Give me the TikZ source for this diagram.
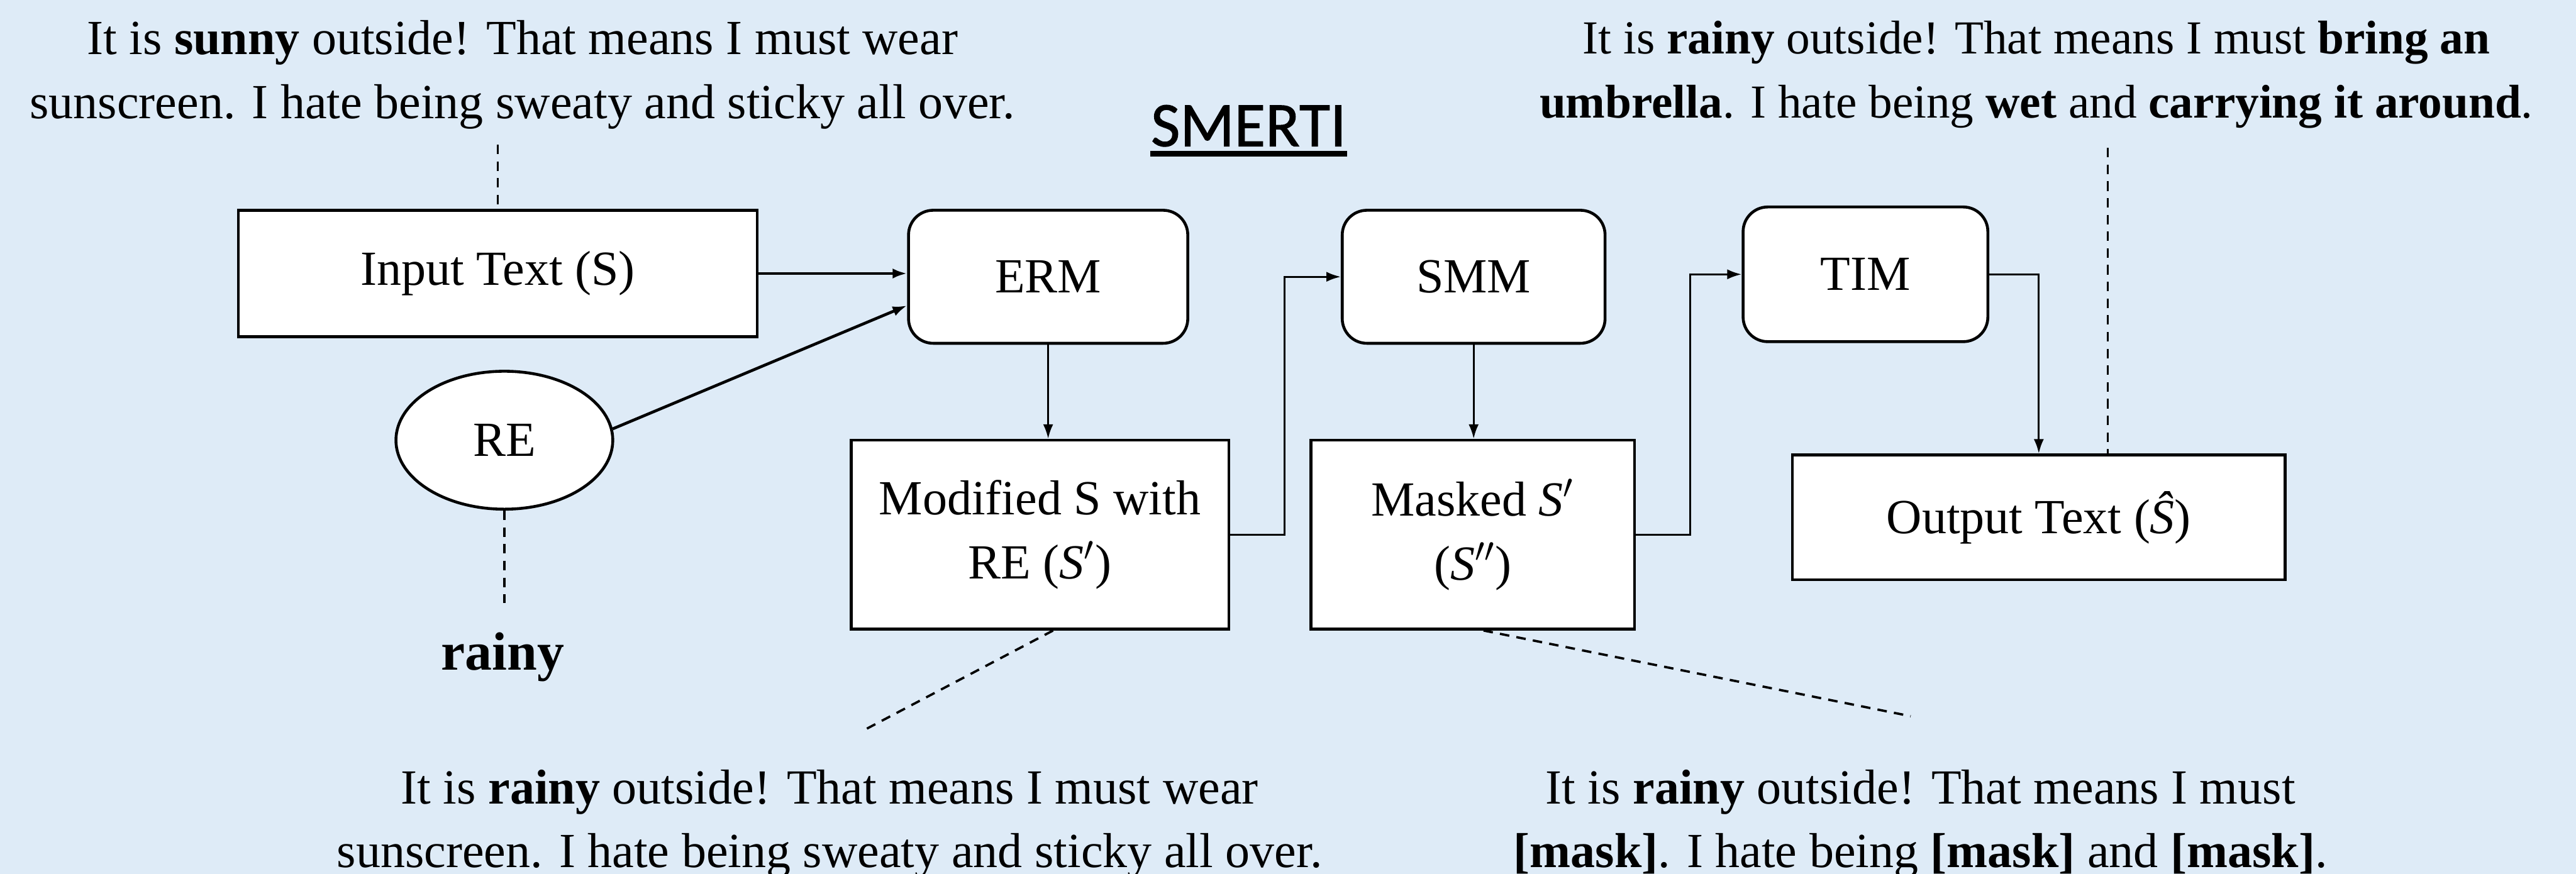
\documentclass[tikz,border=0pt]{standalone}
\usepackage{fontspec}
\setmainfont{Liberation Serif}
\newfontfamily\titlefont[FakeBold=1]{Carlito}
\usetikzlibrary{arrows.meta,shapes.geometric,calc}
\definecolor{bgblue}{HTML}{DEEBF7}
\begin{document}
\begin{tikzpicture}[x=0.02cm,y=-0.02cm,
  txt/.style={font=\fontsize{17}{22.1}\selectfont},
  box/.style={draw,fill=white,line width=1pt,txt,align=center,inner sep=0pt},
  rbox/.style={box,rounded corners=0.3cm},
  conn/.style={line width=0.7pt,-{Latex[length=5pt,width=3.5pt]}},
  dashedline/.style={dash pattern=on 3.3pt off 2.5pt,line width=0.8pt},
]
\fill[bgblue] (0,0) rectangle (1568,532);
\useasboundingbox (0,0) rectangle (1568,532);

% boxes
\node[box,minimum width=6.32cm,minimum height=1.54cm] (in) at (303,166.5) {Input Text (S)};
\node[rbox,minimum width=3.4cm,minimum height=1.62cm] (erm) at (638,168.5) {ERM};
\node[rbox,minimum width=3.2cm,minimum height=1.62cm] (smm) at (897,168.5) {SMM};
\node[rbox,minimum width=2.98cm,minimum height=1.64cm] (tim) at (1135.5,167) {TIM};
\node[box,ellipse,minimum width=2.64cm,minimum height=1.68cm] (re) at (307,268) {RE};
\node[box,minimum width=4.6cm,minimum height=2.3cm] (mod) at (633,325.5) {Modified S with\\RE (\textit{S}$'$)};
\node[box,minimum width=3.94cm,minimum height=2.3cm] (msk) at (896.5,325.5) {Masked \textit{S}$'$\\(\textit{S}$''$)};
\node[box,minimum width=6cm,minimum height=1.52cm] (out) at (1241,315) {Output Text (\textit{\^S})};

% texts
\node[txt,align=center] (tl) at (318,45.5) {It is \textbf{sunny} outside! That means I must wear\\sunscreen. I hate being sweaty and sticky all over.};
\node[font=\fontsize{16.4}{22.1}\selectfont,align=center] (tr) at (1239.5,45.5) {It is \textbf{rainy} outside! That means I must \textbf{bring an}\\\textbf{umbrella}. I hate being \textbf{wet} and \textbf{carrying it around}.};
\node[txt,align=center] (bl) at (505,501.5) {It is \textbf{rainy} outside! That means I must wear\\sunscreen. I hate being sweaty and sticky all over.};
\node[txt,align=center] (br) at (1169,501.5) {It is \textbf{rainy} outside! That means I must\\\textbf{[mask]}. I hate being \textbf{[mask]} and \textbf{[mask]}.};
\node[font=\fontsize{18.7}{22}\selectfont\bfseries,anchor=base] (rainy) at (306,408) {rainy};
\node[font=\titlefont\fontsize{22}{26}\selectfont,anchor=base,inner sep=0pt] (title) at (760,89) {SMERTI};
\draw[line width=1.9pt] ([yshift=-2.55pt]title.base west) -- ([yshift=-2.55pt]title.base east);

% dashed leaders
\coordinate (c1) at (303,88);
\draw[dashedline] (c1) -- (in.north);
\coordinate (c2) at (1283,90);
\draw[dashedline] (c2) -- (c2 |- out.north);
\coordinate (c3) at (307,367);
\draw[dashedline] (re.south) -- (c3);
\coordinate (c4) at (525,445);
\draw[dashedline] ($(mod.south)+(8,0)$) -- (c4);
\coordinate (c5) at (1163,436);
\draw[dashedline] ($(msk.south)+(6.5,0)$) -- (c5);

% connectors
\draw[conn,line width=1pt] (in.east) -- (in.east -| erm.west);
\draw[conn,line width=1pt] (re.6) -- ($(erm.west)+(0,17.5)$);
\draw[conn] (erm.south) -- (erm.south |- mod.north);
\draw[conn] (mod.east) -- ++(33,0) |- (smm.west);
\draw[conn] (smm.south) -- (smm.south |- msk.north);
\draw[conn] (msk.east) -- ++(33,0) |- (tim.west);
\draw[conn] (tim.east) -| (out.north);
\end{tikzpicture}
\end{document}
